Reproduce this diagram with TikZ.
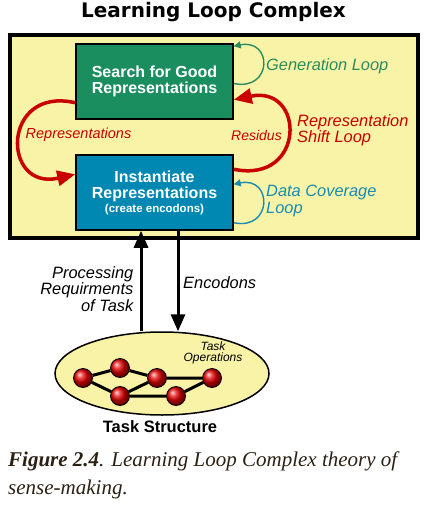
\documentclass[tikz,border=0pt]{standalone}
\usepackage{fontspec}
\setmainfont{Liberation Sans}
\newfontfamily\capfont{Liberation Serif}
\newfontfamily\headfont{DejaVu Sans}
\usetikzlibrary{arrows.meta,shapes.geometric}
\definecolor{paleyellow}{HTML}{F8F3A6}
\definecolor{searchgreen}{HTML}{1B8E60}
\definecolor{instblue}{HTML}{0088B3}
\definecolor{loopred}{HTML}{C80000}
\definecolor{genteal}{HTML}{2A8C5E}
\definecolor{datablue}{HTML}{1A8AB2}
\definecolor{capbrown}{HTML}{2B2014}
\begin{document}
\begin{tikzpicture}[x=1pt, y=1pt,
  box/.style = {draw, line width=1.5pt, minimum width=157pt, minimum height=75pt, align=center, text=white, font=\fontsize{16}{16.5}\selectfont\bfseries},
  op/.style = {circle, draw=black, line width=0.8pt, inner sep=0pt, minimum size=19pt, ball color=red!90!black},
  redarc/.style = {loopred, line width=3.5pt, -{Triangle[length=18pt,width=15pt]}},
  thinloop/.style = {line width=1.4pt, -{Triangle[length=7pt,width=7pt]}},
  bigarrow/.style = {line width=3pt, -{Triangle[length=17pt,width=14pt]}},
  lbl/.style = {font=\fontsize{16.4}{16.5}\selectfont\itshape, inner sep=0pt}]
  \useasboundingbox (0,0) rectangle (436,-508);
  \node[font=\headfont\fontsize{20}{21}\selectfont\bfseries] (title) at (213.5,-12.5) {Learning Loop Complex};
  \draw[line width=4pt, fill=paleyellow] (10,-35) rectangle (417.5,-237.5);
  \node[box, fill=searchgreen] (search) at (154.5,-81.5) {Search for Good\\Representations};
  \node[box, fill=instblue] (inst) at (154.5,-192.5) {Instantiate\\Representations\\[-3pt]{\fontsize{11.5}{12}\selectfont(create encodons)}};
  % loops around the two boxes
  \draw[redarc] ([yshift=17pt]search.south west) .. controls +(-74,17) and +(-74,-17) .. ([yshift=-20pt]inst.north west);
  \draw[redarc] ([yshift=-15pt]inst.north east) .. controls +(72,-15) and +(72,15) .. ([yshift=20pt]search.south east);
  \draw[thinloop, genteal] ([yshift=-2pt]search.east) .. controls +(39,-8) and +(39,8) .. ([yshift=-3pt]search.north east);
  \draw[thinloop, datablue] ([yshift=8pt]inst.south east) .. controls +(39,-8) and +(39,8) .. ([yshift=-30pt]inst.north east);
  \node[lbl, genteal, anchor=west] (gen) at (266,-66) {Generation Loop};
  \node[lbl, loopred, font=\fontsize{14.5}{15}\selectfont\itshape] (reps) at (78.5,-135) {Representations};
  \node[lbl, loopred, font=\fontsize{14}{15}\selectfont\itshape] (res) at (256.5,-135) {Residus};
  \node[lbl, loopred, anchor=west, align=left] (shift) at (297,-130.5) {Representation\\Shift Loop};
  \node[lbl, datablue, anchor=west, align=left] (data) at (266,-201) {Data Coverage\\Loop};
  % task structure
  \node[ellipse, draw, line width=1.5pt, fill=paleyellow, minimum width=214pt, minimum height=83pt] (ts) at (162,-373.5) {};
  \draw[bigarrow] ([xshift=-21pt]ts.north) -- ([xshift=-21pt]ts.north |- inst.south);
  \draw[bigarrow] ([xshift=16pt]ts.north |- inst.south) -- ([xshift=16pt]ts.north);
  \node[lbl, anchor=east, align=right] (proc) at (133.5,-289) {Processing\\Requirments\\of Task};
  \node[lbl, anchor=west] (enc) at (183,-283) {Encodons};
  \node[op] (1) at (83,-378) {};
  \node[op] (2) at (120,-368) {};
  \node[op] (3) at (157,-378) {};
  \node[op] (4) at (212,-378) {};
  \node[op] (5) at (120,-396) {};
  \node[op] (6) at (176,-396) {};
  \draw[line width=3pt] (1) -- (2) -- (3) -- (4) -- (6) -- (5) -- (1);
  \draw[line width=3pt] (5) -- (3);
  \node[lbl, align=center, font=\fontsize{12}{10.5}\selectfont\itshape] (taskop) at (213,-353) {Task\\Operations};
  \node[font=\fontsize{16.5}{17}\selectfont\bfseries] (tstitle) at (160,-427) {Task Structure};
  % caption
  \node[capbrown, anchor=north west, align=left, inner sep=0pt, font=\capfont\fontsize{21}{28}\selectfont\itshape] (caption) at (8,-452) {\textbf{Figure 2.4}. Learning Loop Complex theory of\\sense-making.};
\end{tikzpicture}
\end{document}
